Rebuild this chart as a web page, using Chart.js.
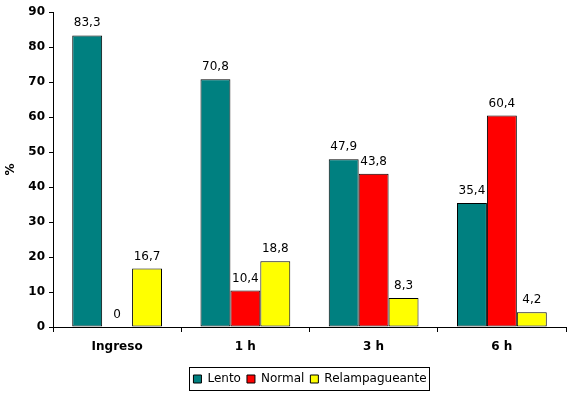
<!DOCTYPE html>
<html>
<head>
<meta charset="utf-8">
<script src="https://cdn.jsdelivr.net/npm/chart.js@4.4.1/dist/chart.umd.min.js"></script>
<style>
    html, body { margin: 0; padding: 0; background: #fff; }
    #wrap { width: 570px; height: 396px; }
</style>
</head>
<body>
<div id="wrap"><canvas id="chartTiempos"></canvas></div>
<script>
const categories = ['Ingreso', '1 h', '3 h', '6 h'];
const lentoValues = [83.3, 70.8, 47.9, 35.4];
const normalValues = [0, 10.4, 43.8, 60.4];
const relampValues = [16.7, 18.8, 8.3, 4.2];
const seriesNames = ['Lento', 'Normal', 'Relampagueante'];

Chart.defaults.font.family = '"DejaVu Sans", Verdana, sans-serif';
Chart.defaults.color = '#000';

// value labels above every bar, with decimal comma
const valueLabels = {
    id: 'valueLabels',
    afterDatasetsDraw(chart) {
        const ctx = chart.ctx;
        ctx.save();
        ctx.font = '12px "DejaVu Sans", Verdana, sans-serif';
        ctx.fillStyle = '#000';
        ctx.textAlign = 'center';
        ctx.textBaseline = 'alphabetic';
        chart.data.datasets.forEach((ds, i) => {
            chart.getDatasetMeta(i).data.forEach((bar, j) => {
                const txt = String(ds.data[j]).replace('.', ',');
                ctx.fillText(txt, bar.x, bar.y - 9);
            });
        });
        ctx.restore();
    }
};

// legend centred under the plot area (like Excel) + frame around it
const legendFrame = {
    id: 'legendFrame',
    afterLayout(chart) {
        const lg = chart.legend;
        const area = chart.chartArea;
        const dx = Math.round((area.left + area.right) / 2 - (lg.left + lg.right) / 2);
        const dy = 5;
        lg.left += dx; lg.right += dx;
        lg.top += dy; lg.bottom += dy;
    },
    afterDraw(chart) {
        const items = chart.legend.legendHitBoxes;
        if (!items || !items.length) return;
        let l = Infinity, r = -Infinity, t = Infinity, b = -Infinity;
        items.forEach(h => {
            l = Math.min(l, h.left);
            r = Math.max(r, h.left + h.width);
            t = Math.min(t, h.top);
            b = Math.max(b, h.top + h.height);
        });
        const ctx = chart.ctx;
        ctx.save();
        ctx.strokeStyle = '#000';
        ctx.lineWidth = 1;
        ctx.strokeRect(Math.round(l - 4) + 0.5, Math.round(t - 6) + 0.5, Math.round(r - l + 7), Math.round(b - t + 11));
        ctx.restore();
    }
};

new Chart(document.getElementById('chartTiempos'), {
    type: 'bar',
    data: {
        labels: categories,
        datasets: [
            { label: seriesNames[0], data: lentoValues, backgroundColor: '#008080' },
            { label: seriesNames[1], data: normalValues, backgroundColor: '#FF0000' },
            { label: seriesNames[2], data: relampValues, backgroundColor: '#FFFF00' }
        ]
    },
    options: {
        responsive: true,
        maintainAspectRatio: false,
        animation: false,
        datasets: {
            bar: {
                borderColor: '#000',
                borderWidth: 1,
                borderSkipped: false,
                categoryPercentage: 0.7,
                barPercentage: 1.0
            }
        },
        layout: {
            padding: { top: 12, right: 4, bottom: 6, left: 0 }
        },
        plugins: {
            legend: {
                position: 'bottom',
                labels: {
                    boxWidth: 8,
                    boxHeight: 8,
                    padding: 6,
                    font: { size: 12 }
                }
            },
            tooltip: { enabled: false }
        },
        scales: {
            x: {
                grid: {
                    offset: true,
                    drawOnChartArea: false,
                    tickLength: 5,
                    color: '#000'
                },
                border: { color: '#000', width: 1 },
                ticks: {
                    font: { size: 12, weight: 'bold' },
                    padding: 8
                },
                afterFit(scale) {
                    scale.height = 35;
                }
            },
            y: {
                min: 0,
                max: 90,
                grid: {
                    drawOnChartArea: false,
                    tickLength: 4,
                    color: '#000'
                },
                border: { color: '#000', width: 1 },
                ticks: {
                    stepSize: 10,
                    font: { size: 12, weight: 'bold' },
                    padding: 4
                },
                title: {
                    display: true,
                    text: '%',
                    font: { size: 12, weight: 'bold' }
                },
                afterFit(scale) {
                    scale.width = 53;
                }
            }
        }
    },
    plugins: [valueLabels, legendFrame]
});
</script>
</body>
</html>
